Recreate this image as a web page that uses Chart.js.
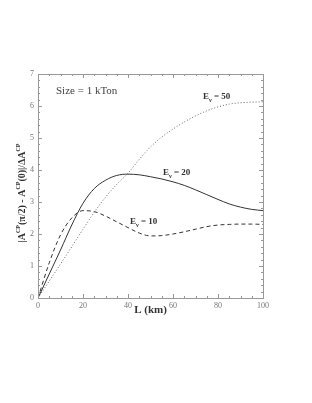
<!DOCTYPE html>
<html lang="en">
<head>
    <meta charset="UTF-8">
    <title>CP asymmetry vs baseline</title>
    <script src="https://cdn.jsdelivr.net/npm/chart.js"></script>
    <style>
        html, body { margin: 0; padding: 0; background: #fff; }
        #wrap { width: 312px; height: 403px; }
    </style>
</head>
<body>
    <div id="wrap"><canvas id="chart"></canvas></div>
    <script>
        // baseline L (km)
        const distances = [0, 5, 10, 15, 20, 25, 30, 35, 40, 45, 50, 55, 60, 65, 70, 75, 80, 85, 90, 95, 100];
        // E = 10 (dashed)
        const e10 = [0, 1.10, 1.97, 2.50, 2.73, 2.70, 2.56, 2.38, 2.20, 2.03, 1.94, 1.95, 2.00, 2.07, 2.15, 2.23, 2.28, 2.30, 2.31, 2.31, 2.30];
        // E = 20 (solid)
        const e20 = [0, 0.75, 1.50, 2.28, 2.96, 3.42, 3.68, 3.83, 3.87, 3.85, 3.79, 3.72, 3.63, 3.52, 3.38, 3.23, 3.08, 2.94, 2.84, 2.77, 2.73];
        // E = 50 (dotted)
        const e50 = [0, 0.53, 1.06, 1.60, 2.15, 2.68, 3.15, 3.55, 3.90, 4.33, 4.72, 5.03, 5.28, 5.50, 5.69, 5.85, 5.97, 6.06, 6.10, 6.12, 6.13];

        const serif = "'Liberation Serif', 'DejaVu Serif', serif";
        const lineColor = '#333';

        const toPoints = arr => arr.map((v, i) => ({ x: distances[i], y: v }));

        // inward ticks on all four sides + frame
        const framePlugin = {
            id: 'frame',
            afterDatasetsDraw(chart) {
                const { ctx, chartArea: a, scales } = chart;
                ctx.save();
                ctx.strokeStyle = '#999';
                ctx.lineWidth = 1;
                ctx.strokeRect(a.left + 0.5, a.top + 0.5, a.right - a.left, a.bottom - a.top);
                ctx.beginPath();
                for (let v = 0; v <= 100; v += 5) {
                    const px = Math.round(scales.x.getPixelForValue(v)) + 0.5;
                    const len = v % 20 === 0 ? 4 : 2;
                    ctx.moveTo(px, a.bottom); ctx.lineTo(px, a.bottom - len);
                    ctx.moveTo(px, a.top); ctx.lineTo(px, a.top + len);
                }
                for (let i = 0; i <= 35; i++) {
                    const v = i * 0.2;
                    const py = Math.round(scales.y.getPixelForValue(v)) + 0.5;
                    const len = i % 5 === 0 ? 4 : 2;
                    ctx.moveTo(a.left, py); ctx.lineTo(a.left + len, py);
                    ctx.moveTo(a.right, py); ctx.lineTo(a.right - len, py);
                }
                ctx.stroke();
                ctx.restore();
            },
            afterDraw(chart) {
                const { ctx } = chart;
                ctx.save();
                ctx.fillStyle = '#333';
                ctx.textBaseline = 'middle';

                // y axis title with superscripts
                const main = 'bold 10px ' + serif;
                const sup = 'bold 6px ' + serif;
                const parts = [['|A', main, 0], ['CP', sup, -4], ['(\u03c0/2) - A', main, 0], ['CP', sup, -4],
                               ['(0)|/\u0394A', main, 0], ['CP', sup, -4]];
                let total = 0;
                parts.forEach(p => { ctx.font = p[1]; total += ctx.measureText(p[0]).width; });
                ctx.translate(22, 193);
                ctx.rotate(-Math.PI / 2);
                let x = -total / 2;
                parts.forEach(p => {
                    ctx.font = p[1];
                    ctx.fillText(p[0], x, p[2]);
                    x += ctx.measureText(p[0]).width;
                });
                ctx.setTransform(1, 0, 0, 1, 0, 0);

                // curve labels
                const labels = [['50', 203, 97], ['20', 163, 173], ['10', 130, 222]];
                labels.forEach(([val, lx, ly]) => {
                    ctx.font = 'bold 9px ' + serif;
                    ctx.fillText('E', lx, ly);
                    let w = ctx.measureText('E').width;
                    ctx.font = 'bold 6px ' + serif;
                    ctx.fillText('\u03bd', lx + w, ly + 3);
                    w += ctx.measureText('\u03bd').width;
                    ctx.font = 'bold 9px ' + serif;
                    ctx.fillText(' = ' + val, lx + w, ly);
                });

                ctx.font = '11px ' + serif;
                ctx.fillStyle = '#444';
                ctx.fillText('Size = 1 kTon', 56, 91);
                ctx.restore();
            }
        };

        new Chart(document.getElementById('chart'), {
            type: 'line',
            data: {
                datasets: [
                    { label: 'E = 50', data: toPoints(e50), borderColor: '#666', borderWidth: 1, borderDash: [1, 2] },
                    { label: 'E = 20', data: toPoints(e20), borderColor: lineColor, borderWidth: 1 },
                    { label: 'E = 10', data: toPoints(e10), borderColor: lineColor, borderWidth: 1, borderDash: [4, 3] }
                ]
            },
            options: {
                responsive: true,
                maintainAspectRatio: false,
                animation: false,
                layout: { padding: { left: 0, top: 74, right: 49, bottom: 86 } },
                elements: { point: { radius: 0 }, line: { tension: 0.35, cubicInterpolationMode: 'monotone' } },
                plugins: { legend: { display: false }, tooltip: { enabled: false } },
                scales: {
                    x: {
                        type: 'linear', min: 0, max: 100,
                        grid: { display: false, drawTicks: false },
                        border: { display: false },
                        ticks: { stepSize: 20, padding: 3, color: '#777', font: { family: serif, size: 8 } },
                        title: { display: true, text: 'L (km)', color: '#333', padding: 0, font: { family: serif, size: 11, weight: 'bold' } },
                        afterFit: s => { s.height = 19; }
                    },
                    y: {
                        min: 0, max: 7,
                        grid: { display: false, drawTicks: false },
                        border: { display: false },
                        ticks: { stepSize: 1, padding: 4, color: '#777', font: { family: serif, size: 8 } },
                        afterFit: s => { s.width = 38; }
                    }
                }
            },
            plugins: [framePlugin]
        });
    </script>
</body>
</html>
